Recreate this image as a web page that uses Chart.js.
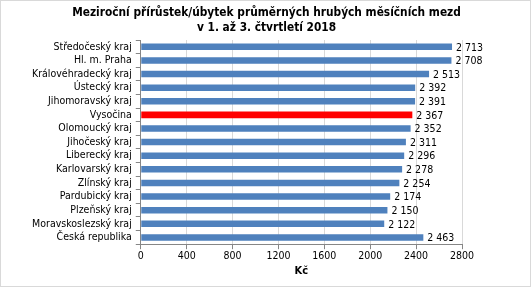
<!DOCTYPE html>
<html>
<head>
<meta charset="utf-8">
<script src="https://cdn.jsdelivr.net/npm/chart.js@4"></script>
<style>
  html, body { margin: 0; padding: 0; background: #fff; }
  #box { width: 531px; height: 287px; box-sizing: border-box; border: 1px solid #d9d9d9; position: relative; }
  #chart1 { position: absolute; left: 0; top: 0; }
</style>
</head>
<body>
<div id="box"><canvas id="chart1" width="529" height="285"></canvas></div>
<script>
const regions = [
  "Středočeský kraj",
  "Hl. m. Praha",
  "Královéhradecký kraj",
  "Ústecký kraj",
  "Jihomoravský kraj",
  "Vysočina",
  "Olomoucký kraj",
  "Jihočeský kraj",
  "Liberecký kraj",
  "Karlovarský kraj",
  "Zlínský kraj",
  "Pardubický kraj",
  "Plzeňský kraj",
  "Moravskoslezský kraj",
  "Česká republika",
];
const increase = [2713, 2708, 2513, 2392, 2391, 2367, 2352, 2311, 2296, 2278, 2254, 2174, 2150, 2122, 2463];
const highlight = "Vysočina";
const xTicks = [0, 400, 800, 1200, 1600, 2000, 2400, 2800];
const titleLines = ["Meziroční přírůstek/úbytek průměrných hrubých měsíčních mezd", "v 1. až 3. čtvrtletí 2018"];

const fontName = "Tahoma, 'DejaVu Sans Condensed', 'DejaVu Sans', sans-serif";
const fmt = (v) => String(v).replace(/\B(?=(\d{3})+(?!\d))/g, " ");

// value labels at the end of each bar + title centred on the whole canvas
const barLabels = {
  id: "barLabels",
  afterDatasetsDraw(chart) {
    const c = chart.ctx;
    c.save();
    c.font = "10.5px " + fontName;
    c.fillStyle = "#000";
    c.textBaseline = "middle";
    c.textAlign = "left";
    chart.getDatasetMeta(0).data.forEach((bar, i) => {
      c.fillText(fmt(increase[i]), bar.x + 4, bar.y + 1);
    });
    c.font = "bold 11.8px " + fontName;
    c.textAlign = "center";
    titleLines.forEach((t, i) => {
      c.fillText(t, chart.width / 2 + 1, 12 + i * 15);
    });
    c.restore();
  },
};

const ctx = document.querySelector("#chart1");
let chart_show = new Chart(ctx, {
  type: "bar",
  data: {
    labels: regions,
    datasets: [
      {
        label: "Kč",
        data: increase,
        backgroundColor: regions.map((r) => (r === highlight ? "#ff0000" : "#4f81bd")),
        barPercentage: 0.48,
        categoryPercentage: 1,
      },
    ],
  },
  options: {
    indexAxis: "y",
    responsive: false,
    animation: false,
    layout: { padding: { left: 27, right: 68, top: 39, bottom: 8 } },
    plugins: {
      legend: { display: false },
      tooltip: { enabled: false },
      title: { display: false },
    },
    scales: {
      x: {
        min: 0,
        max: 2800,
        afterBuildTicks: (axis) => {
          axis.ticks = xTicks.map((v) => ({ value: v }));
        },
        grid: { color: "#d9d9d9", tickLength: 5, tickColor: "#868686" },
        border: { color: "#868686" },
        ticks: {
          color: "#000",
          font: { family: fontName, size: 10.5 },
          padding: 1,
          maxRotation: 0,
          callback: (v) => String(v),
        },
        title: {
          display: true,
          text: "Kč",
          color: "#000",
          font: { family: fontName, size: 11, weight: "bold" },
          padding: { top: 1, bottom: 0 },
        },
      },
      y: {
        grid: { drawOnChartArea: false, tickLength: 5, tickColor: "#868686" },
        border: { color: "#868686" },
        ticks: { color: "#000", font: { family: fontName, size: 10.5 }, padding: 4, autoSkip: false },
      },
    },
  },
  plugins: [barLabels],
});
</script>
</body>
</html>
